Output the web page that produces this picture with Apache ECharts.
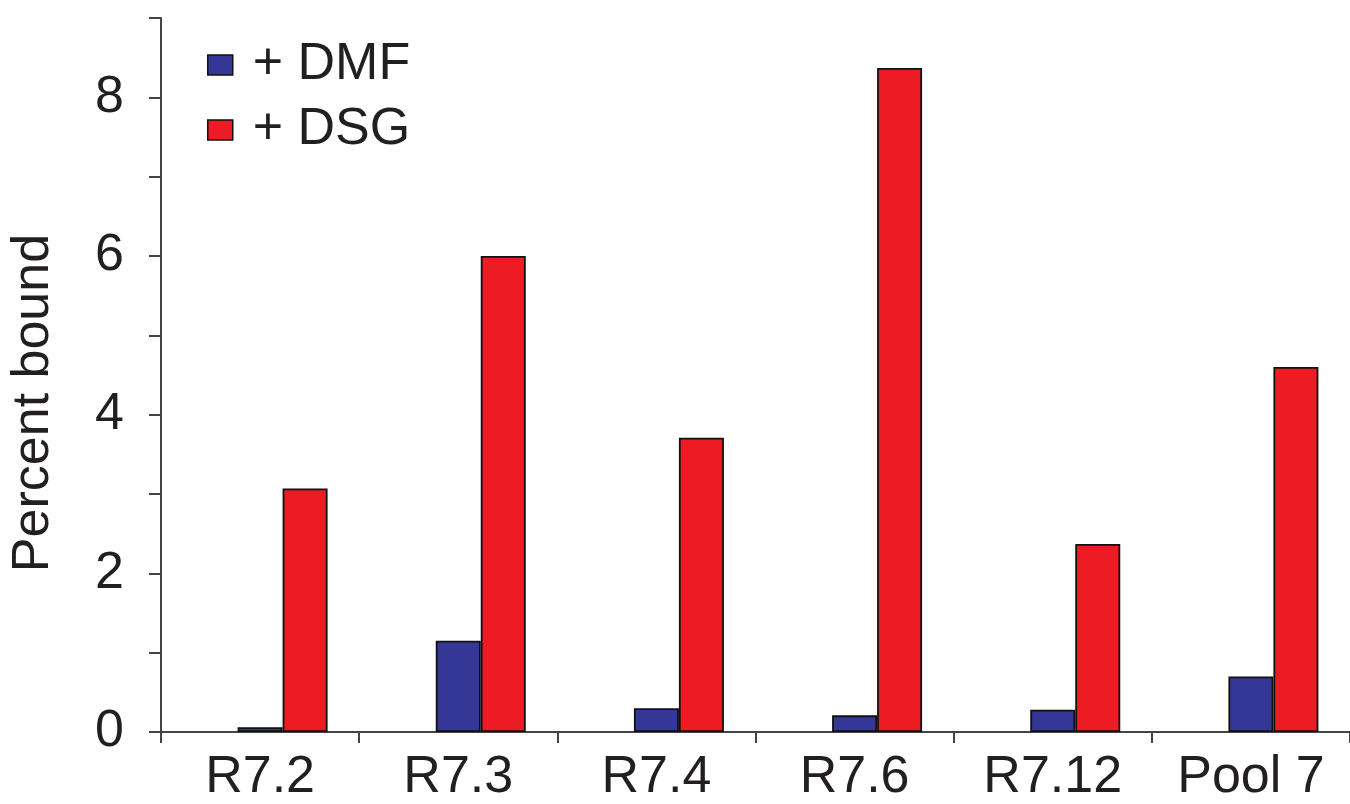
<!DOCTYPE html>
<html>
<head>
<meta charset="utf-8">
<script src="https://cdn.jsdelivr.net/npm/echarts@6/dist/echarts.min.js"></script>
<style>
html,body{margin:0;padding:0;background:#fff;}
#chart{width:1350px;height:804px;}
</style>
</head>
<body>
<div id="chart"></div>
<script>
const categories = ['R7.2', 'R7.3', 'R7.4', 'R7.6', 'R7.12', 'Pool 7'];
const dmfValues = [0.06, 1.15, 0.30, 0.21, 0.28, 0.70];
const dsgValues = [3.07, 6.00, 3.71, 8.37, 2.37, 4.60];
const seriesNames = ['+ DMF', '+ DSG'];
const yAxisName = 'Percent bound';

const FONT = 'Liberation Sans, Arial, sans-serif';
const TXT = '#231f20';

const chart = echarts.init(document.getElementById('chart'), null, {renderer: 'canvas'});
chart.setOption({
  animation: false,
  backgroundColor: '#ffffff',
  textStyle: {fontFamily: FONT, color: TXT},
  grid: {left: 157, top: 18, width: 1200, bottom: 71, containLabel: false},
  legend: {
    data: seriesNames,
    orient: 'vertical',
    left: 207,
    top: 39,
    padding: 0,
    itemWidth: 25,
    itemHeight: 20,
    itemGap: 13,
    itemTextGap: 5,
    icon: 'rect',
    textStyle: {fontSize: 52, color: TXT, fontFamily: FONT, padding: [0, 0, 0, 15]},
    itemStyle: {borderColor: '#111', borderWidth: 1.5}
  },
  xAxis: {
    type: 'category',
    data: categories,
    boundaryGap: true,
    axisLine: {lineStyle: {color: '#444', width: 2}},
    axisTick: {show: true, length: 11, interval: 0, lineStyle: {color: '#444', width: 2}},
    axisLabel: {fontSize: 52, color: TXT, fontFamily: FONT, margin: 20, interval: 0}
  },
  yAxis: {
    type: 'value',
    min: 0,
    max: 9,
    interval: 1,
    name: yAxisName,
    nameLocation: 'middle',
    nameGap: 101,
    nameRotate: 90,
    nameTextStyle: {fontSize: 52, color: TXT, fontFamily: FONT, padding: [0, 56, 0, 0]},
    splitLine: {show: false},
    axisLine: {show: true, lineStyle: {color: '#444', width: 2}},
    axisTick: {show: true, length: 12, lineStyle: {color: '#444', width: 2}},
    axisLabel: {
      fontSize: 52, color: TXT, fontFamily: FONT, margin: 37,
      formatter: function (v) { return v % 2 === 0 ? String(v) : ''; }
    }
  },
  series: [
    {
      name: '',
      type: 'bar',
      data: [],
      barWidth: 45,
      barGap: '0%',
      silent: true
    },
    {
      name: seriesNames[0],
      type: 'bar',
      data: dmfValues,
      barWidth: 45,
      barGap: '0%',
      itemStyle: {color: '#343796', borderColor: '#111', borderWidth: 1.8}
    },
    {
      name: seriesNames[1],
      type: 'bar',
      data: dsgValues,
      barWidth: 45,
      barGap: '0%',
      itemStyle: {color: '#ed1c24', borderColor: '#111', borderWidth: 1.8}
    }
  ]
});
</script>
</body>
</html>
